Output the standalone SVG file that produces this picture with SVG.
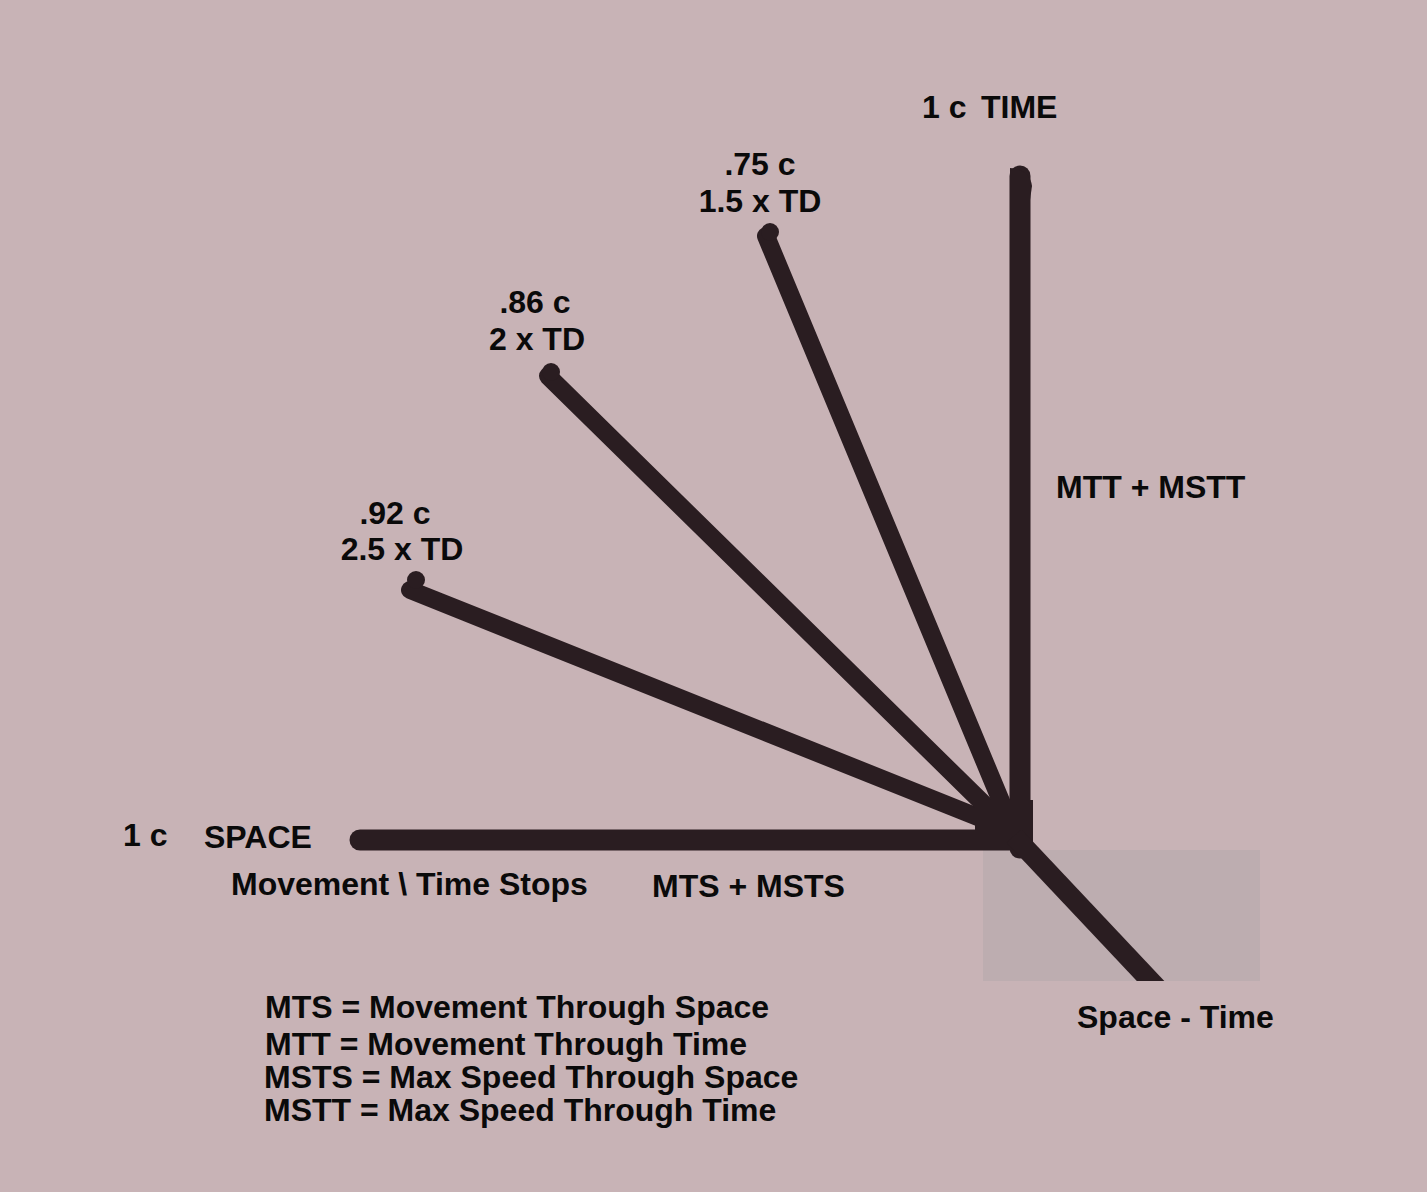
<svg xmlns="http://www.w3.org/2000/svg" width="1427" height="1192" viewBox="0 0 1427 1192">
<style>
text{font-family:"Liberation Sans",Arial,sans-serif;font-weight:bold;font-size:32px;fill:#0a0a0a}
.ln{stroke:#2a1d21;fill:none;stroke-linecap:round}
</style>
<defs><clipPath id="pc"><rect x="983" y="830" width="277" height="151"/></clipPath></defs>
<rect width="1427" height="1192" fill="#c8b3b6"/>
<rect id="patch" x="983" y="850" width="277" height="131" fill="#bdadb0"/>
<g id="connectors">
<line class="ln" x1="1020" y1="176" x2="1020" y2="848" stroke-width="21"/>
<path d="M1010 168 Q1030 170 1032 186 L1030 200 L1010 200 Z" fill="#2a1d21"/>
<line class="ln" x1="360" y1="840" x2="1015" y2="840" stroke-width="21"/>
<line class="ln" x1="410" y1="590" x2="990" y2="822" stroke-width="18"/>
<line class="ln" x1="548" y1="376" x2="998" y2="818" stroke-width="18"/>
<line class="ln" x1="766" y1="236" x2="1008" y2="818" stroke-width="18"/>
<circle cx="416" cy="580" r="9" fill="#2a1d21"/>
<circle cx="770" cy="232" r="9" fill="#2a1d21"/>
<circle cx="551" cy="372" r="9" fill="#2a1d21"/>
<rect x="975" y="800" width="58" height="50" fill="#2a1d21"/>
<line x1="1014" y1="836" x2="1160" y2="991" stroke="#2a1d21" stroke-width="20" clip-path="url(#pc)"/>
</g>
<g id="time"><text x="922" y="118">1 c</text><text x="981" y="118">TIME</text></g>
<g id="v75"><text x="760" y="175" text-anchor="middle">.75 c</text><text x="760" y="212" text-anchor="middle">1.5 x TD</text></g>
<g id="v86"><text x="535" y="313" text-anchor="middle">.86 c</text><text x="537" y="350" text-anchor="middle">2 x TD</text></g>
<g id="v92"><text x="395" y="524" text-anchor="middle">.92 c</text><text x="402" y="560" text-anchor="middle">2.5 x TD</text></g>
<g id="mtt"><text x="1056" y="498">MTT + MSTT</text></g>
<g id="space"><text x="123" y="846">1 c</text><text x="204" y="848">SPACE</text></g>
<g id="stops"><text x="231" y="895">Movement \ Time Stops</text></g>
<g id="mts"><text x="652" y="897">MTS + MSTS</text></g>
<g id="st"><text x="1077" y="1028">Space - Time</text></g>
<g id="legend">
<text x="265" y="1018">MTS = Movement Through Space</text>
<text x="265" y="1055">MTT = Movement Through Time</text>
<text x="264" y="1088">MSTS = Max Speed Through Space</text>
<text x="264" y="1121">MSTT = Max Speed Through Time</text>
</g>
</svg>
